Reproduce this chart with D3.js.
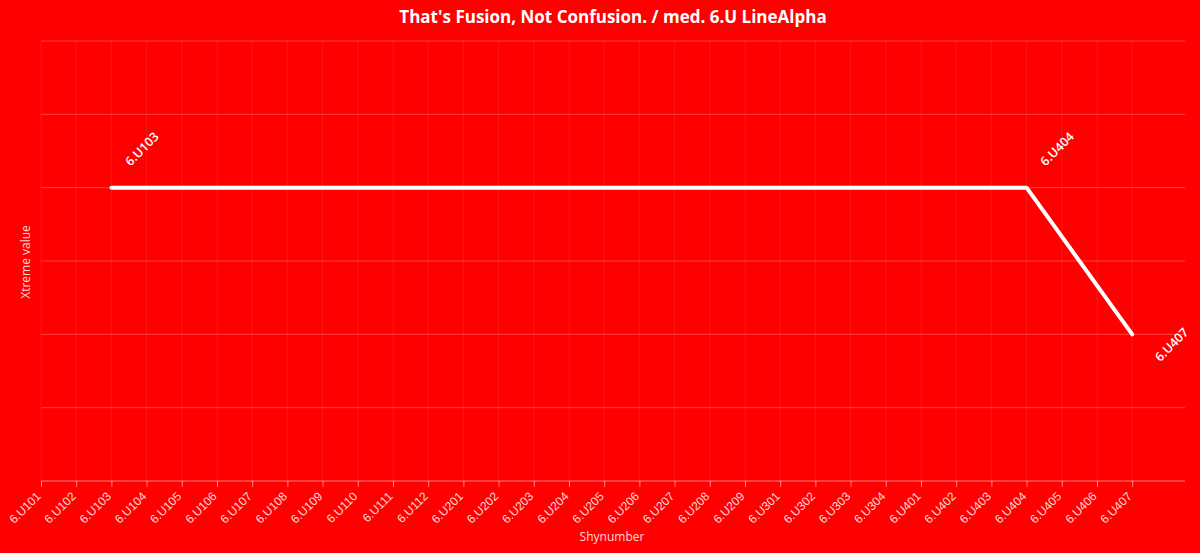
<!DOCTYPE html>
<html><head><meta charset="utf-8">
<script src="https://cdn.jsdelivr.net/npm/d3@7"></script>
<style>
html,body{margin:0;padding:0;background:#ff0000;}
svg{display:block;font-family:"Open Sans","Noto Sans",sans-serif;}
</style></head>
<body>
<svg id="c" width="1200" height="553"></svg>
<script>
const categories = ["6.U101","6.U102","6.U103","6.U104","6.U105","6.U106","6.U107","6.U108","6.U109","6.U110","6.U111","6.U112","6.U201","6.U202","6.U203","6.U204","6.U205","6.U206","6.U207","6.U208","6.U209","6.U301","6.U302","6.U303","6.U304","6.U401","6.U402","6.U403","6.U404","6.U405","6.U406","6.U407"];
const pointNames = ["6.U103","6.U404","6.U407"];
const pointValues = [4, 4, 2];
const yTicks = [0,1,2,3,4,5,6];
const chartTitle = "That's Fusion, Not Confusion. / med. 6.U LineAlpha";

(function(){
const svg = d3.select("#c");
svg.append("rect").attr("width",1200).attr("height",553).attr("fill","#ff0000");
const mLeft = 41, mTop = 41, mBottom = 481, mRight = 1185;
const step = 35.2;
const x = d3.scalePoint().domain(categories).range([mLeft, mLeft + step*(categories.length-1)]);
const y = d3.scaleLinear().domain([0,6]).range([mBottom, mTop]);

// vertical grid
svg.append("g").selectAll("line").data(categories).join("line")
  .attr("x1",d=>x(d)).attr("x2",d=>x(d)).attr("y1",mTop).attr("y2",mBottom)
  .attr("stroke","#ffffff").attr("stroke-opacity",0.08);
// horizontal grid
svg.append("g").selectAll("line").data(yTicks.slice(1)).join("line")
  .attr("x1",mLeft).attr("x2",mRight).attr("y1",d=>y(d)).attr("y2",d=>y(d))
  .attr("stroke","#ffffff").attr("stroke-opacity",0.25);

// x axis
const xa = svg.append("g").attr("transform",`translate(0,${mBottom})`).call(d3.axisBottom(x).tickSize(6).tickSizeOuter(0));
xa.select(".domain").remove();
xa.append("line").attr("x1",mLeft).attr("x2",mRight).attr("stroke","#ffffff").attr("stroke-opacity",0.5);
xa.selectAll(".tick line").attr("stroke","#ffffff").attr("stroke-opacity",0.5);
xa.selectAll(".tick text").attr("fill","#ffffff").attr("fill-opacity",0.85)
  .attr("font-size",12).attr("text-anchor","end")
  .attr("x",0).attr("y",0).attr("dx",0).attr("dy",0)
  .attr("transform","translate(0,16) rotate(-45)");

// axis titles
svg.append("text").attr("x",612).attr("y",541).attr("text-anchor","middle")
  .attr("fill","#ffffff").attr("fill-opacity",0.85).attr("font-size",12).text("Shynumber");
svg.append("text").attr("transform","translate(30,262) rotate(-90)").attr("text-anchor","middle")
  .attr("fill","#ffffff").attr("fill-opacity",0.85).attr("font-size",12).text("Xtreme value");

// title
svg.append("text").attr("x",613).attr("y",23).attr("text-anchor","middle")
  .attr("fill","#ffffff").attr("font-size",17).attr("font-weight","bold").text(chartTitle);

// line
const pts = pointNames.map((n,i)=>({n, v:pointValues[i]}));
svg.append("path").datum(pts)
  .attr("d", d3.line().x(d=>x(d.n)).y(d=>y(d.v)))
  .attr("fill","none").attr("stroke","#ffffff").attr("stroke-width",4)
  .attr("stroke-linecap","round").attr("stroke-linejoin","round");

// labels
svg.append("g").selectAll("text").data(pts).join("text")
  .attr("transform",(d,i)=>{
    const below = i===pts.length-1;
    const px = x(d.n) + (below?28:19), py = y(d.v) + (below?28:-21);
    return `translate(${px},${py}) rotate(-45)`;
  })
  .attr("fill","#ffffff").attr("font-size",12.5).attr("font-weight",600).text(d=>d.n);
})();
</script>
</body></html>
